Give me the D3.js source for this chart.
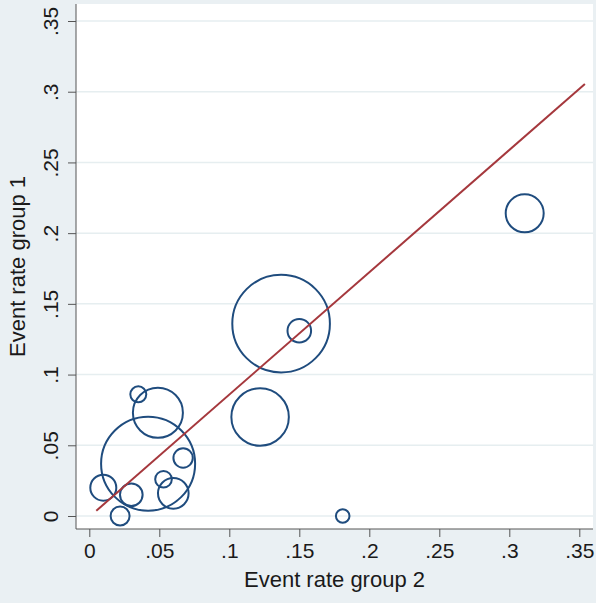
<!DOCTYPE html>
<html>
<head>
<meta charset="utf-8">
<script src="https://cdn.jsdelivr.net/npm/d3@7"></script>
<style>
  html, body { margin: 0; padding: 0; background: #eaf0f3; }
  svg { display: block; font-family: "Liberation Sans", Arial, sans-serif; }
</style>
</head>
<body>
<svg id="chart" width="596" height="603"></svg>
<script>
// event rates per study
const rateGroup2 = [0.035, 0.049, 0.042, 0.010, 0.030, 0.022, 0.053, 0.060, 0.067, 0.137, 0.150, 0.122, 0.181, 0.311];
const rateGroup1 = [0.086, 0.073, 0.037, 0.020, 0.015, 0.000, 0.026, 0.016, 0.041, 0.136, 0.131, 0.070, 0.000, 0.214];
// study weights (%), bubble area proportional
const weights = [0.86, 8.4, 29.7, 2.27, 1.72, 1.21, 0.93, 3.15, 1.26, 32.0, 1.87, 11.1, 0.62, 4.85];
// fitted line end points
const fitX = [0.005, 0.354];
const fitY = [0.0037, 0.3055];
const ticks = [0, 0.05, 0.1, 0.15, 0.2, 0.25, 0.3, 0.35];

const svg = d3.select('#chart');
const W = 596, H = 603;

const plot = {left: 76, top: 4, right: 593, bottom: 529};

const x = d3.scaleLinear().domain([0, 0.35]).range([89.3, 579.3]);
const y = d3.scaleLinear().domain([0, 0.35]).range([516, 21]);
const r = d3.scaleSqrt().domain([0, 32]).range([0, 48.8]);

const fmt = (d) => d === 0 ? '0' : d3.format('.2~f')(d).replace(/^0/, '');

svg.append('rect')
  .attr('width', W).attr('height', H)
  .attr('fill', '#eaf0f3');

svg.append('rect')
  .attr('x', plot.left).attr('y', plot.top)
  .attr('width', plot.right - plot.left)
  .attr('height', plot.bottom - plot.top)
  .attr('fill', '#ffffff');

// gridlines
svg.append('g')
  .selectAll('line')
  .data(ticks)
  .enter().append('line')
  .attr('x1', plot.left).attr('x2', plot.right)
  .attr('y1', (d) => y(d)).attr('y2', (d) => y(d))
  .attr('stroke', '#e6eef0')
  .attr('stroke-width', 1.5);

// axes
const xAxis = d3.axisBottom(x).tickValues(ticks).tickFormat(fmt).tickSize(8).tickPadding(6);
const yAxis = d3.axisLeft(y).tickValues(ticks).tickFormat(fmt).tickSize(8).tickPadding(8);

const gx = svg.append('g')
  .attr('transform', 'translate(0,' + plot.bottom + ')')
  .call(xAxis);
gx.select('.domain').attr('d', 'M' + plot.left + ',0H' + plot.right).attr('stroke', '#555');
gx.selectAll('.tick line').attr('stroke', '#555');
gx.selectAll('.tick text')
  .attr('fill', '#1a1a1a')
  .style('font-size', '21px');

const gy = svg.append('g')
  .attr('transform', 'translate(' + plot.left + ',0)')
  .call(yAxis);
gy.select('.domain').attr('d', 'M0,' + plot.top + 'V' + plot.bottom).attr('stroke', '#555');
gy.selectAll('.tick line').attr('stroke', '#555');
gy.selectAll('.tick text')
  .attr('fill', '#1a1a1a')
  .attr('x', 0).attr('dy', 0)
  .attr('text-anchor', 'middle')
  .attr('transform', 'translate(-18,0) rotate(-90)')
  .style('font-size', '21px');

// bubbles
const studies = rateGroup2.map((d, i) => ({x: d, y: rateGroup1[i], w: weights[i]}));

svg.append('g')
  .selectAll('circle')
  .data(studies)
  .enter().append('circle')
  .attr('cx', (d) => x(d.x))
  .attr('cy', (d) => y(d.y))
  .attr('r', (d) => r(d.w))
  .attr('fill', 'none')
  .attr('stroke', '#1f4c7e')
  .attr('stroke-width', 2);

// fitted line
svg.append('line')
  .attr('x1', x(fitX[0])).attr('y1', y(fitY[0]))
  .attr('x2', x(fitX[1])).attr('y2', y(fitY[1]))
  .attr('stroke', '#a5383d')
  .attr('stroke-width', 2);

// titles
svg.append('text')
  .attr('x', (plot.left + plot.right) / 2)
  .attr('y', 587)
  .attr('text-anchor', 'middle')
  .attr('fill', '#1a1a1a')
  .style('font-size', '22px')
  .text('Event rate group 2');

svg.append('text')
  .attr('transform', 'translate(25,' + ((plot.top + plot.bottom) / 2) + ') rotate(-90)')
  .attr('text-anchor', 'middle')
  .attr('fill', '#1a1a1a')
  .style('font-size', '22px')
  .text('Event rate group 1');
</script>
</body>
</html>
